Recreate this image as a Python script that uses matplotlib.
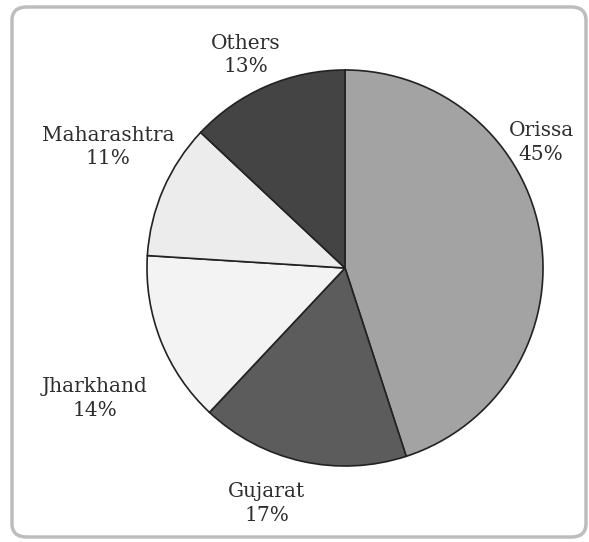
import numpy as np
from matplotlib import pyplot as plt
from matplotlib.patches import FancyBboxPatch

states = ['Orissa', 'Gujarat', 'Jharkhand', 'Maharashtra', 'Others']
shares = [45, 17, 14, 11, 13]
colours = ['#a3a3a3', '#5c5c5c', '#f3f3f3', '#ececec', '#444444']

W, H = 589, 542
fig = plt.figure(figsize=(W/100, H/100), dpi=100)

# rounded frame round the chart
frame = FancyBboxPatch((12/W, 5/H), 574/W, 530/H, boxstyle='round,pad=0,rounding_size=0.025',
                       transform=fig.transFigure, facecolor='none', edgecolor='#bdbdbd',
                       linewidth=2.5, zorder=-1)
fig.patches.append(frame)

cx, cy, r = 345, 268, 200
ax = fig.add_axes([(cx-r)/W, (H-cy-r)/H, 2*r/W, 2*r/H])
ax.pie(shares, colors=colours, startangle=90, counterclock=False,
       wedgeprops=dict(edgecolor='#222222', linewidth=1.2), radius=1)
ax.set_xlim(-1.01, 1.01)
ax.set_ylim(-1.01, 1.01)
ax.set_aspect('equal')
ax.axis('off')

# label centres in pixels of the picture
label_px = [(543, 141), (266, 506), (92, 400), (106, 146), (245, 53)]
for name, val, (px, py) in zip(states, shares, label_px):
    ax.text((px-cx)/r, (cy-py)/r, f'{name}\n{val}%', ha='center', va='center',
            fontsize=14.5, family='DejaVu Serif', color='#2e2e2e', linespacing=1.3,
            clip_on=False)

fig.savefig('out.png', dpi=100)
